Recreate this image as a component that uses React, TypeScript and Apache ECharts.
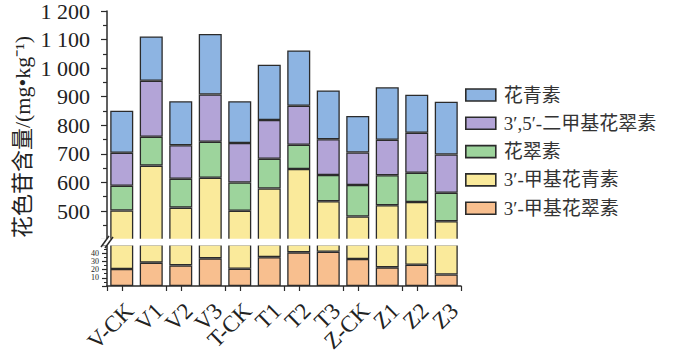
import React, { useEffect, useRef } from "react";
import * as echarts from "echarts";

const categories = ["V-CK", "V1", "V2", "V3", "T-CK", "T1", "T2", "T3", "Z-CK", "Z1", "Z2", "Z3"];
const seriesNames = ["3′-甲基花翠素", "3′-甲基花青素", "花翠素", "3′,5′-二甲基花翠素", "花青素"];
const methylDelphinidin = [20.6, 28.3, 25.0, 33.5, 21.0, 35.0, 40.8, 41.6, 32.7, 22.6, 25.8, 14.0];
const methylCyanidin = [481.4, 630.7, 487.0, 583.1, 480.0, 544.0, 606.2, 492.4, 448.3, 497.4, 505.7, 450.0];
const delphinidin = [86.6, 101.0, 101.0, 126.0, 99.0, 104.0, 85.0, 92.0, 110.0, 105.0, 102.5, 100.0];
const dimethylDelphinidin = [115.4, 196.0, 117.0, 165.4, 138.0, 135.5, 136.6, 125.0, 114.0, 124.6, 140.0, 134.0];
const cyanidin = [147.0, 155.0, 154.0, 211.5, 146.0, 193.5, 193.4, 171.0, 127.5, 183.4, 133.0, 184.6];
const upperTicks = [500, 600, 700, 800, 900, 1000, 1100, 1200];
const lowerTicks = [10, 20, 30, 40];
const yAxisTitle = "花色苷含量/(mg•kg⁻¹)";

const colors = ["#F8BF8F", "#FAEA9B", "#9DD49C", "#B3A4D7", "#8DB4E2"];
const SERIF = '"Liberation Serif", "Times New Roman", "Noto Sans CJK SC", serif';
const BORDER = "#2b2b2b";

export default function App() {
  const ref = useRef<HTMLDivElement>(null);
  useEffect(() => {
    if (!ref.current) return;
    const chart = echarts.init(ref.current, null, { renderer: "svg" });
    const values = [methylDelphinidin, methylCyanidin, delphinidin, dimethylDelphinidin, cyanidin];
    const mkSeries = (idx: number, grid: number) => ({
      type: "bar",
      name: seriesNames[idx],
      data: values[idx],
      stack: grid === 0 ? "up" : "low",
      xAxisIndex: grid,
      yAxisIndex: grid,
      barWidth: "78%",
      clip: true,
      itemStyle: { color: colors[idx], borderColor: BORDER, borderWidth: 1.3 },
      emphasis: { disabled: true },
    });
    const series: any[] = [];
    for (let i = 0; i < 5; i++) series.push(mkSeries(i, 0));
    for (let i = 0; i < 2; i++) series.push(mkSeries(i, 1));

    const axisLine = { show: true, lineStyle: { color: BORDER, width: 1.5 } };
    chart.setOption({
      animation: false,
      grid: [
        { left: 107, width: 354, top: 11, height: 228.6 },
        { left: 107, width: 354, top: 244.75, height: 41.25 },
        { left: 107, width: 354, top: 244.75, height: 41.25 },
        { left: 115, width: 354, top: 244.75, height: 41.25 },
      ],
      xAxis: [
        { type: "category", gridIndex: 0, data: categories, show: false },
        {
          type: "category",
          gridIndex: 1,
          data: categories,
          axisLine,
          axisTick: { show: true, alignWithLabel: true, length: 5, lineStyle: { color: BORDER, width: 1.2 } },
          axisLabel: { show: false },
        },
        {
          type: "category",
          gridIndex: 2,
          data: categories,
          axisLine: { show: false },
          axisTick: { show: true, length: 5, lineStyle: { color: BORDER, width: 1.2 } },
          axisLabel: { show: false },
        },
        {
          type: "category",
          gridIndex: 3,
          data: categories,
          axisLine: { show: false },
          axisTick: { show: false },
          axisLabel: {
            rotate: 45,
            margin: 21,
            fontFamily: SERIF,
            fontSize: 23,
            color: "#222",
            interval: 0,
          },
        },
      ],
      yAxis: [
        {
          type: "value",
          gridIndex: 0,
          min: 400,
          max: 1200,
          interval: 100,
          axisLine,
          splitLine: { show: false },
          axisTick: { show: true, length: 6, lineStyle: { color: BORDER, width: 1.2 } },
          minorTick: { show: true, splitNumber: 2, length: 4, lineStyle: { color: BORDER, width: 1.2 } },
          axisLabel: {
            margin: 17,
            fontFamily: SERIF,
            fontSize: 22,
            color: "#222",
            formatter: (v: number) => {
              if (upperTicks.indexOf(v) < 0) return "";
              return v >= 1000 ? Math.floor(v / 1000) + " " + String(v % 1000).padStart(3, "0") : String(v);
            },
          },
        },
        {
          type: "value",
          gridIndex: 1,
          min: 0,
          max: 50,
          interval: 10,
          axisLine,
          splitLine: { show: false },
          axisTick: { show: true, length: 5, lineStyle: { color: BORDER, width: 1.2 } },
          minorTick: { show: true, splitNumber: 2, length: 3, lineStyle: { color: BORDER, width: 1 } },
          axisLabel: {
            margin: 8,
            fontFamily: SERIF,
            fontSize: 8,
            lineHeight: 8,
            color: "#222",
            formatter: (v: number) => (lowerTicks.indexOf(v) < 0 ? "" : String(v)),
          },
        },
        { type: "value", gridIndex: 2, min: 0, max: 1, show: false },
        { type: "value", gridIndex: 3, min: 0, max: 1, show: false },
      ],
      legend: {
        data: [seriesNames[4], seriesNames[3], seriesNames[2], seriesNames[1], seriesNames[0]],
        orient: "vertical",
        left: 460,
        top: 80.5,
        itemWidth: 30,
        itemHeight: 12,
        itemGap: 9.3,
        icon: "rect",
        itemStyle: { borderColor: BORDER, borderWidth: 1.6 },
        textStyle: { fontFamily: SERIF, fontSize: 19, lineHeight: 19, color: "#333", padding: [0, 0, 0, 3] },
        selectedMode: false,
      },
      graphic: [
        {
          type: "rect",
          z: 100,
          shape: { x: 100, y: 238.8, width: 362, height: 6.7 },
          style: { fill: "#fff" },
        },
        {
          type: "line",
          z: 101,
          shape: { x1: 101, y1: 247, x2: 109, y2: 236 },
          style: { stroke: BORDER, lineWidth: 1.5 },
        },
        {
          type: "line",
          z: 101,
          shape: { x1: 105, y1: 248, x2: 113, y2: 237 },
          style: { stroke: BORDER, lineWidth: 1.5 },
        },
        {
          type: "text",
          z: 101,
          x: 22,
          y: 137,
          rotation: Math.PI / 2,
          style: {
            text: yAxisTitle,
            fontFamily: SERIF,
            fontSize: 22,
            fill: "#222",
            textAlign: "center",
            textVerticalAlign: "middle",
          },
        },
      ],
      series,
    });
    return () => chart.dispose();
  }, []);
  return (
    <div
      ref={ref}
      style={{ position: "fixed", left: 0, top: 0, width: 682, height: 356, background: "#fff" }}
    />
  );
}
